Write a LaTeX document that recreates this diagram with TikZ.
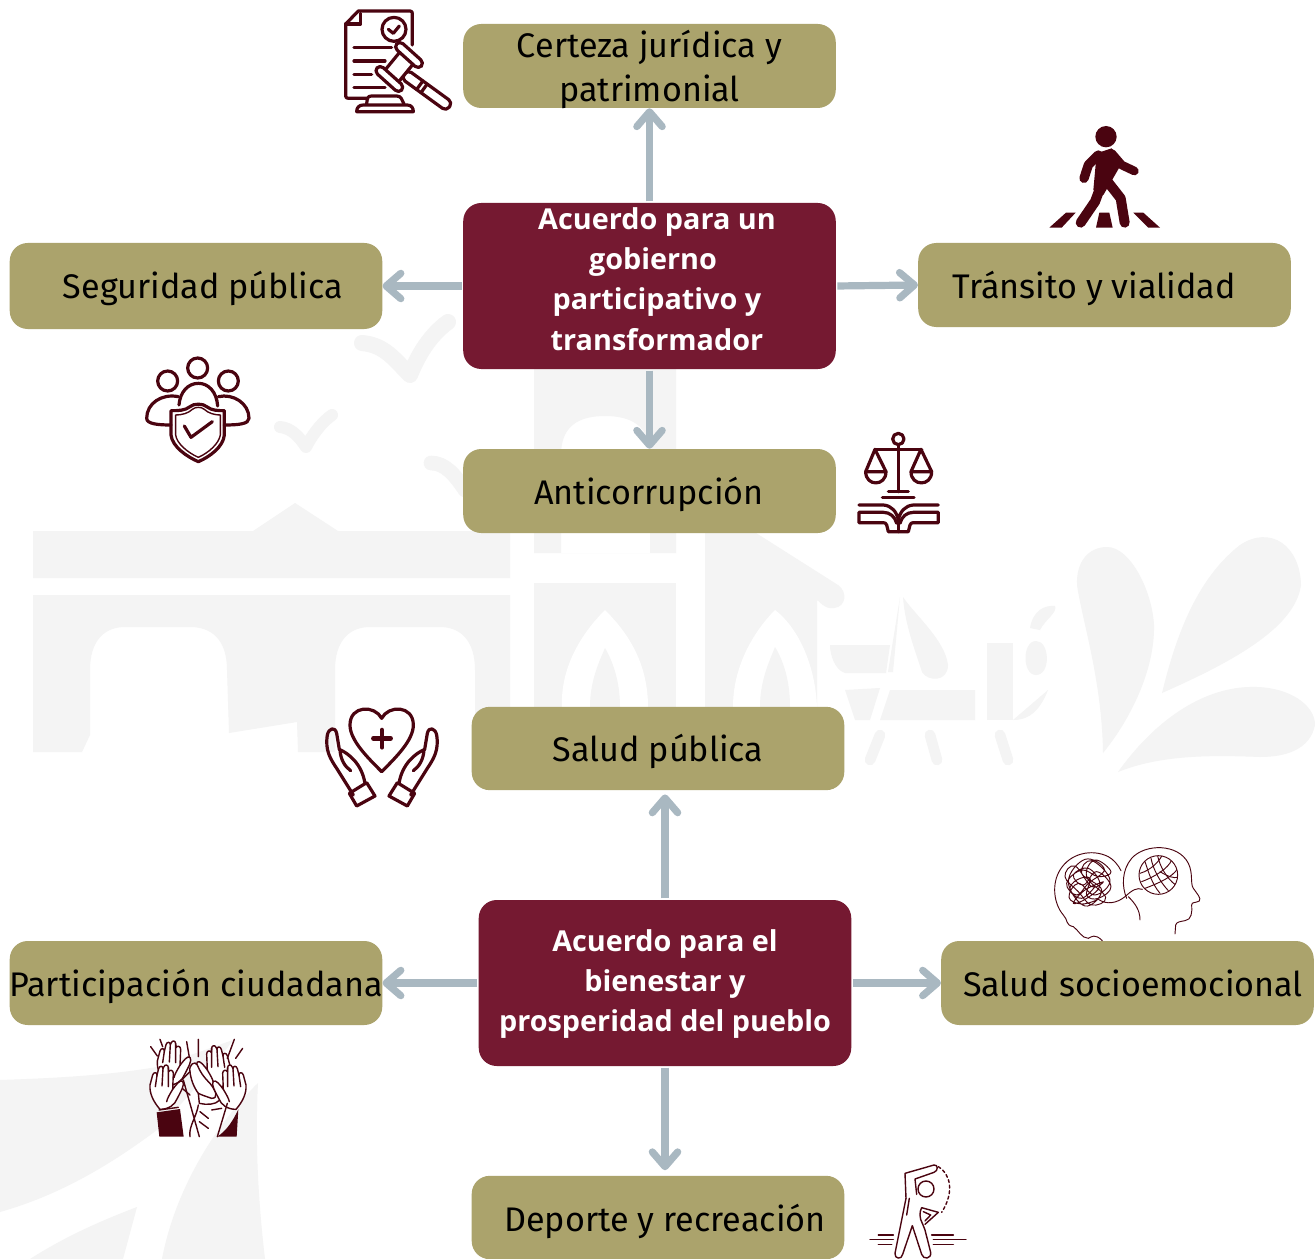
\documentclass[tikz,border=0pt]{standalone}
\usepackage{fontspec}
\setmainfont{Fira Sans}
\newfontfamily\boldf{Open Sans}
\usetikzlibrary{arrows.meta}
\definecolor{olive}{HTML}{ABA36C}
\definecolor{wine}{HTML}{751931}
\definecolor{arrowc}{HTML}{A9B8C1}
\definecolor{iconc}{HTML}{4A0410}
\definecolor{wm}{HTML}{F4F4F4}
\newcommand{\normtext}{\fontsize{25.6pt}{33pt}\selectfont}
\newcommand{\boldtext}{\fontsize{21.6pt}{30pt}\selectfont\boldf\bfseries}
\newcommand{\openhandshape}{%
  \draw[ithin,fill=white] (60,238) .. controls (40,215) and (28,190) .. (30,165) -- (38,135) .. controls (41,125) and (52,126) .. (51,136) -- (56,116) .. controls (59,106) and (69,107) .. (69,116) -- (72,110) .. controls (75,102) and (85,104) .. (85,113) -- (86,125) .. controls (90,118) and (100,120) .. (100,130) -- (98,178) .. controls (108,165) and (120,148) .. (128,154) .. controls (136,162) and (122,185) .. (112,205) .. controls (105,225) and (85,238) .. (60,238) -- cycle;
  \draw[ithin] (51,136) -- (46,170) (69,116) -- (66,168) (85,113) -- (85,170) (98,178) .. controls (88,195) and (82,205) .. (80,215);
}
\newcommand{\handheartside}{%
  \draw[icons] (100,285) -- (50,205) .. controls (30,175) and (15,150) .. (22,105) .. controls (26,85) and (45,78) .. (50,100) -- (58,148) .. controls (85,160) and (125,190) .. (135,250);
  \draw[icons] (60,150) .. controls (62,180) and (75,200) .. (92,212);
  \draw[icons] (88,280) -- (140,248) -- (165,288) -- (110,318) -- cycle;
}
\tikzset{
  bx/.style={draw=none,rounded corners=13.5pt,inner sep=0pt,minimum width=279.4pt,text width=0pt},
  bxo/.style={bx,fill=olive},
  bxw/.style={bx,fill=wine},
  lab/.style={anchor=base,inner sep=0pt,font=\normtext,text=black},
  labb/.style={anchor=base,inner sep=0pt,font=\boldtext,text=white},
  conn/.style={draw=arrowc,line width=5.4pt,line cap=butt,shorten <=1pt,-{Straight Barb[round,length=11pt,width=19pt,line width=5.4pt]}},
  icons/.style={draw=iconc,line width=2.4pt,line cap=round,line join=round},
  ithin/.style={draw=iconc,line width=1.05pt,line cap=round,line join=round},
  ihair/.style={draw=iconc,line width=0.7pt,line cap=round,line join=round},
  wmstroke/.style={draw=wm,line cap=round,line join=round},
}
\begin{document}
\begin{tikzpicture}[x=0.75pt,y=-0.75pt]
\useasboundingbox (0,0) rectangle (1315,1259);
\fill[white] (0,0) rectangle (1315,1259);

% ---------- watermark ----------
\fill[wm] (33,531) -- (253,531) -- (295,503) -- (338,531) -- (510,531) -- (510,578) -- (33,578) -- cycle;
\fill[wm] (33,595) -- (510,595) -- (510,752) -- (475,752) -- (475,670) .. controls (475,640) and (460,627) .. (440,627) -- (370,627) .. controls (350,627) and (335,640) .. (335,670) -- (335,752) -- (298,752) -- (297,722) -- (229,733) -- (227,670) .. controls (227,640) and (212,627) .. (190,627) -- (125,627) .. controls (105,627) and (90,640) .. (90,670) -- (90,735) -- (82,752) -- (33,752) -- cycle;
\fill[wm,even odd rule] (534,365) -- (676,365) -- (676,553) -- (534,553) -- cycle (561,553) -- (561,455) .. controls (561,425) and (580,416) .. (605,416) .. controls (630,416) and (650,425) .. (650,455) -- (650,553) -- cycle;
\fill[wm] (534,583) -- (676,583) -- (676,707) -- (534,707) -- cycle;
\fill[white] (562,707) .. controls (560,660) and (590,625) .. (605,610) .. controls (625,630) and (648,660) .. (648,707) -- cycle;
\fill[wm] (590,707) .. controls (590,680) and (600,660) .. (605,648) .. controls (612,660) and (620,680) .. (620,707) -- cycle;
\fill[wm] (705,533) -- (756,533) -- (838,585) .. controls (848,592) and (846,607) .. (834,608) .. controls (825,610) and (818,600) .. (817,600) -- (817,707) -- (705,707) -- cycle;
\fill[white] (733,707) .. controls (733,660) and (760,625) .. (775,610) .. controls (795,625) and (815,660) .. (817,707) -- cycle;
\fill[wm] (760,707) .. controls (760,680) and (770,660) .. (775,647) .. controls (783,660) and (790,680) .. (790,707) -- cycle;
\fill[wm] (830,645) -- (890,645) -- (886,673) -- (845,673) .. controls (835,670) and (830,655) .. (830,645) -- cycle;
\fill[wm] (903,597) .. controls (915,615) and (945,640) .. (948,665) .. controls (948,682) and (928,682) .. (922,672) .. controls (915,650) and (905,625) .. (903,597) -- cycle;
\fill[wm] (900,597) -- (888,672) -- (893,672) -- cycle;
\fill[wm] (845,690) -- (880,688) -- (870,720) -- (855,720) -- cycle;
\fill[wm] (890,690) -- (975,690) -- (975,720) -- (880,720) -- cycle;
\fill[wm] (987,643) -- (1013,643) -- (1013,720) -- (987,720) -- cycle;
\fill[wm] (1036,641) .. controls (1050,641) and (1051,675) .. (1036,675) .. controls (1022,675) and (1022,641) .. (1036,641) -- cycle;
\fill[wm] (1013,720) -- (1048,690) .. controls (1040,710) and (1030,720) .. (1013,720) -- cycle;
\fill[wm] (1030,628) .. controls (1033,610) and (1045,605) .. (1055,606) .. controls (1058,612) and (1045,620) .. (1040,630) -- cycle;
\draw[wmstroke,line width=8pt] (930,735) -- (937,760) (1000,735) -- (1008,760);
\draw[wmstroke,line width=8pt] (880,735) -- (870,760);
\draw[wmstroke,line width=12pt] (362,343) .. controls (385,345) and (395,360) .. (410,375) .. controls (418,355) and (430,335) .. (448,322);
\draw[wmstroke,line width=9pt] (280,427) .. controls (292,428) and (300,438) .. (306,447) .. controls (312,435) and (322,422) .. (332,415);
\draw[wmstroke,line width=11pt] (431,463) .. controls (445,463) and (455,475) .. (465,490);
\fill[wm] (1107,547) .. controls (1090,547) and (1076,560) .. (1077,585) .. controls (1082,620) and (1102,680) .. (1103,753) .. controls (1130,720) and (1155,670) .. (1154,625) .. controls (1152,590) and (1130,547) .. (1107,547) -- cycle;
\fill[wm] (1162,693) .. controls (1175,640) and (1195,580) .. (1240,545) .. controls (1270,525) and (1300,545) .. (1301,585) .. controls (1295,630) and (1225,665) .. (1162,693) -- cycle;
\fill[wm] (1118,772) .. controls (1155,720) and (1205,685) .. (1257,687) .. controls (1290,688) and (1315,705) .. (1315,725) .. controls (1310,750) and (1285,757) .. (1260,757) .. controls (1210,755) and (1160,755) .. (1118,772) -- cycle;
\fill[wm] (0,1080) .. controls (60,1078) and (110,1075) .. (157,1067) -- (233,1040) .. controls (205,1080) and (175,1110) .. (157,1130) .. controls (110,1165) and (60,1195) .. (0,1212) -- cycle;
\fill[wm] (258,1083) .. controls (215,1125) and (175,1190) .. (162,1259) -- (265,1259) .. controls (258,1200) and (255,1140) .. (258,1083) -- cycle;
\fill[wm] (137,1207) .. controls (90,1225) and (60,1240) .. (30,1259) -- (123,1259) -- cycle;

% ---------- boxes ----------
\node[bxo,minimum height=63pt] (cert) at (649.5,66) {};
\node[bxw,minimum height=124.5pt] (cena) at (649.5,286) {};
\node[bxo,minimum height=64.5pt] (segu) at (196,286) {};
\node[bxo,minimum height=63pt] (tran) at (1104.5,285) {};
\node[bxo,minimum height=63pt] (anti) at (649.5,491) {};
\node[bxo,minimum height=62.5pt] (salp) at (658,748.5) {};
\node[bxw,minimum height=124.5pt] (cenb) at (665,983) {};
\node[bxo,minimum height=63pt] (part) at (196,983) {};
\node[bxo,minimum height=63pt] (sals) at (1127.5,983) {};
\node[bxo,minimum height=62.5pt] (depo) at (658,1217.5) {};

% ---------- labels ----------
\node[lab] (t1) at (649.5,58) {Certeza jurídica y};
\node[lab] (t2) at (649.5,102) {patrimonial};
\node[lab] (t3) at (203,299) {Seguridad pública};
\node[lab] (t4) at (1094,299) {Tránsito y vialidad};
\node[lab] (t5) at (649,504) {Anticorrupción};
\node[lab] (t6) at (658,761) {Salud pública};
\node[lab] (t7) at (196,996) {Participación ciudadana};
\node[lab] (t8) at (1133,996) {Salud socioemocional};
\node[lab] (t9) at (665,1231) {Deporte y recreación};
\node[labb] (a1) at (657,230) {Acuerdo para un};
\node[labb] (a2) at (653,270) {gobierno};
\node[labb] (a3) at (657,310) {participativo y};
\node[labb] (a4) at (657,350) {transformador};
\node[labb] (b1) at (665,951) {Acuerdo para el};
\node[labb] (b2) at (665,991) {bienestar y};
\node[labb] (b3) at (665,1031) {prosperidad del pueblo};

% ---------- connectors ----------
\draw[conn,shorten >=0pt] (cena.north) -- (cert.south);
\draw[conn,shorten >=0pt] (cena.west) -- (segu.east);
\draw[conn,shorten >=0pt] (cena.east) -- (tran.west);
\draw[conn,shorten >=0pt] (cena.south) -- (anti.north);
\draw[conn,shorten >=3pt] (cenb.north) -- (cenb.north |- salp.south);
\draw[conn,shorten >=0pt] (cenb.west) -- (part.east);
\draw[conn,shorten >=0pt] (cenb.east) -- (sals.west);
\draw[conn,shorten >=4pt] (cenb.south) -- (cenb.south |- depo.north);

% ---------- icon: document and gavel ----------
\begin{scope}[shift={(330,0)},scale=1/3]
\draw[icons] (110,295) -- (55,295) .. controls (49,295) and (47,292) .. (47,288) -- (47,72) -- (85,33) -- (240,33) .. controls (245,33) and (247,36) .. (247,40) -- (247,135);
\draw[icons] (47,72) -- (92,72) -- (92,40);
\draw[icons] (192,88) circle (36);
\draw[icons] (175,88) -- (190,100) -- (208,78);
\draw[icons] (72,143) -- (185,143) (72,183) -- (165,183) (72,223) -- (125,223) (72,263) -- (165,263);
\begin{scope}[rotate around={-36:(300,278)}]
\draw[icons,fill=white,rounded corners=3.5pt] (205,262) rectangle (372,294);
\draw[icons] (262,262) -- (262,294) (278,262) -- (278,294);
\end{scope}
\draw[icons,fill=white] (217,147) -- (257,183) -- (198,255) -- (158,219) -- cycle;
\draw[icons,fill=white,rotate around={-42:(237,165)},rounded corners=3.5pt] (187,152) rectangle (287,178);
\draw[icons,fill=white,rotate around={-42:(178,237)},rounded corners=3.5pt] (128,224) rectangle (228,250);
\draw[icons] (110,312) .. controls (112,295) and (112,288) .. (125,288) -- (200,288) .. controls (215,288) and (215,300) .. (222,312);
\draw[icons] (80,335) .. controls (80,322) and (88,315) .. (100,315) -- (232,315) .. controls (245,315) and (250,325) .. (250,335) -- cycle;
\end{scope}

% ---------- icon: pedestrian ----------
\begin{scope}[shift={(1040,120)},scale=1/3]
\fill[iconc] (198,50) circle (32);
\fill[iconc] (170,100) -- (215,85) -- (245,130) -- (225,165) -- (190,225) -- (160,210) -- cycle;
\draw[iconc,line width=7pt,line cap=round,line join=round] (175,105) -- (145,135) -- (132,175);
\draw[iconc,line width=6.5pt,line cap=round,line join=round] (215,100) -- (245,135) -- (283,153);
\draw[iconc,line width=7.5pt,line cap=round,line join=round] (180,205) -- (165,245) -- (122,308);
\draw[iconc,line width=7.5pt,line cap=round,line join=round] (195,175) -- (242,235) -- (254,308);
\fill[iconc] (28,323) -- (78,278) -- (107,278) -- (65,323) -- cycle;
\fill[iconc] (168,323) -- (178,278) -- (208,278) -- (218,323) -- cycle;
\fill[iconc] (280,278) -- (310,278) -- (360,323) -- (325,323) -- cycle;
\end{scope}

% ---------- icon: people and shield ----------
\begin{scope}[shift={(135,350)},scale=1/3]
\draw[icons] (188,54) circle (30) (98,93) circle (30) (280,93) circle (30);
\draw[icons] (132,165) .. controls (135,125) and (160,100) .. (190,100) .. controls (220,100) and (245,125) .. (248,168);
\draw[icons] (130,140) .. controls (80,130) and (35,160) .. (35,205) .. controls (35,222) and (70,225) .. (108,225);
\draw[icons] (250,140) .. controls (295,130) and (342,160) .. (342,205) .. controls (342,222) and (310,225) .. (268,225);
\draw[icons] (108,182) .. controls (130,182) and (150,182) .. (165,170) .. controls (175,160) and (205,160) .. (215,170) .. controls (230,182) and (250,182) .. (268,182) -- (268,255) .. controls (265,290) and (225,320) .. (190,335) .. controls (155,320) and (112,290) .. (108,255) -- cycle;
\draw[ithin] (122,195) .. controls (140,195) and (160,190) .. (172,178) .. controls (182,170) and (198,170) .. (208,178) .. controls (220,190) and (240,195) .. (256,195) -- (256,255) .. controls (252,280) and (222,308) .. (190,322) .. controls (158,308) and (125,280) .. (122,255) -- cycle;
\draw[icons] (148,228) -- (168,262) -- (232,215);
\end{scope}

% ---------- icon: scales and book ----------
\begin{scope}[shift={(850,425)},scale=1/3]
\draw[icons] (145,42) circle (17);
\draw[icons] (145,60) -- (145,200) (75,73) -- (215,73) (115,200) -- (175,200) (97,217) -- (192,217);
\draw[icons] (47,140) -- (75,73) -- (108,140) (183,140) -- (213,73) -- (245,140);
\draw[icons] (47,140) -- (108,140) .. controls (108,185) and (47,185) .. (47,140);
\draw[icons] (183,140) -- (245,140) .. controls (245,185) and (183,185) .. (183,140);
\draw[icons] (27,240) -- (100,240) .. controls (125,242) and (140,260) .. (145,285) .. controls (150,260) and (165,242) .. (190,240) -- (265,240);
\draw[icons] (145,285) -- (145,320);
\draw[icons] (115,320) -- (175,320) -- (180,300) .. controls (182,295) and (185,293) .. (190,293) -- (265,293) -- (265,262) -- (190,262) .. controls (170,262) and (155,275) .. (150,295);
\draw[icons] (115,320) -- (110,300) .. controls (108,295) and (105,293) .. (100,293) -- (27,293) -- (27,262) -- (100,262) .. controls (120,262) and (135,275) .. (140,295);
\end{scope}

% ---------- icon: heart and hands ----------
\begin{scope}[shift={(320,700)},scale=1/3]
\draw[icons] (185,215) .. controls (140,170) and (90,120) .. (90,75) .. controls (90,15) and (165,15) .. (185,55) .. controls (205,15) and (280,15) .. (280,75) .. controls (280,120) and (230,170) .. (185,215) -- cycle;
\draw[iconc,line width=3.4pt,line cap=round] (160,115) -- (212,115) (186,90) -- (186,142);
\handheartside
\begin{scope}[shift={(372,0)},xscale=-1]
\handheartside
\end{scope}
\end{scope}

% ---------- icon: two heads ----------
\begin{scope}[shift={(1045,840)},scale=1/3]
\draw[ihair] (85,260) .. controls (60,255) and (70,240) .. (55,225) .. controls (25,190) and (20,130) .. (45,90) .. controls (75,40) and (140,25) .. (190,50) .. controls (205,58) and (220,75) .. (228,92);
\draw[ihair] (85,260) .. controls (100,270) and (110,295) .. (130,295) .. controls (140,290) and (150,280) .. (172,302);
\draw[ihair] (250,170) .. controls (270,190) and (285,210) .. (285,240);
\draw[ihair] (245,175) .. controls (230,140) and (230,90) .. (260,55) .. controls (300,10) and (400,10) .. (430,70) .. controls (445,100) and (435,130) .. (445,145) .. controls (455,160) and (470,175) .. (463,183) .. controls (450,190) and (440,185) .. (440,195) .. controls (442,215) and (440,240) .. (420,242) .. controls (405,245) and (395,245) .. (392,255) -- (390,282);
\draw[ihair] (160,178) .. controls (185,195) and (215,190) .. (240,170) .. controls (262,150) and (275,142) .. (292,148);
\draw[ihair] (340,105) circle (58);
\begin{scope}
\clip (340,105) circle (58);
\draw[ihair] (285,100) .. controls (320,90) and (345,60) .. (350,48) (290,125) .. controls (330,110) and (370,85) .. (380,60) (300,145) .. controls (340,130) and (385,110) .. (398,85);
\draw[ihair] (300,65) .. controls (310,95) and (320,130) .. (345,160) (318,55) .. controls (325,90) and (345,125) .. (370,152) (338,48) .. controls (345,80) and (365,115) .. (392,135);
\draw[ihair] (345,95) .. controls (370,110) and (385,115) .. (398,112);
\end{scope}
\draw[ihair] plot[smooth,tension=0.7] coordinates {(160,178) (110,192) (72,172) (100,130) (150,165) (195,120) (140,62) (110,100) (170,150) (120,198) (70,125) (120,58) (178,88) (130,130) (95,165) (65,130) (110,90) (160,110) (198,95) (150,60) (125,110) (182,172) (140,195) (100,155) (60,110) (90,78) (140,140) (175,125) (120,150) (85,190) (125,175) (165,135) (130,85) (85,105) (115,135) (155,95) (198,140) (160,175) (125,165) (135,115) (95,120) (75,150) (110,175) (150,140)};
\end{scope}

% ---------- icon: raised hands ----------
\begin{scope}[shift={(140,1030)},scale=1/3]
\begin{scope}[shift={(22,-72)}]
\openhandshape
\end{scope}
\begin{scope}[shift={(300,-58)},xscale=-1]
\openhandshape
\end{scope}
\draw[ithin] (130,150) -- (178,320) (150,320) .. controls (145,290) and (170,260) .. (175,225);
\draw[ithin,fill=white] (150,125) .. controls (145,105) and (165,90) .. (172,105) .. controls (180,125) and (190,140) .. (210,160) .. controls (230,185) and (235,205) .. (215,205) .. controls (200,200) and (185,195) .. (175,190) .. controls (160,170) and (152,145) .. (150,125) -- cycle;
\draw[ithin] (125,150) -- (150,125) (115,165) -- (150,195) (175,190) -- (178,220) .. controls (200,225) and (225,225) .. (240,210);
\draw[ithin] (180,245) -- (205,265) (178,275) -- (205,295) (215,240) -- (245,235);
\openhandshape
\begin{scope}[shift={(348,0)},xscale=-1]
\openhandshape
\end{scope}
\fill[iconc] (50,247) -- (120,237) -- (131,320) -- (58,320) -- cycle;
\draw[ithin] (57,240) -- (115,232);
\fill[iconc] (295,238) -- (290,320) -- (232,320) .. controls (262,300) and (280,270) .. (295,238) -- cycle;
\draw[ithin] (32,50) -- (52,78) (60,28) -- (68,50) (140,35) -- (148,82) (175,28) -- (175,80) (283,28) -- (262,85) (308,55) -- (287,85);
\draw[ithin] (262,220) -- (232,320);
\end{scope}

% ---------- icon: stretching figure ----------
\begin{scope}[shift={(860,1155)},scale=1/3]
\draw[ithin] (138,130) -- (135,55) -- (222,30) .. controls (235,28) and (235,48) .. (222,52) -- (165,72) -- (170,118);
\draw[ithin] (198,102) circle (24);
\draw[ithin] (138,130) -- (105,295) .. controls (103,312) and (125,315) .. (128,298) -- (157,212) -- (185,298) .. controls (190,315) and (215,312) .. (212,292) -- (195,225) -- (187,205);
\draw[ithin] (148,130) -- (140,180);
\draw[ithin] (185,158) -- (235,172) -- (195,208) (185,158) .. controls (178,170) and (178,190) .. (187,205);
\draw[ithin] (190,170) -- (212,180) -- (195,198);
\draw[ithin,dash pattern=on 2.2pt off 2pt] (235,35) .. controls (270,55) and (285,110) .. (245,172);
\draw[ithin] (55,240) -- (100,240) (30,254) -- (100,254) (55,268) -- (95,268);
\draw[ithin] (215,240) -- (280,240) (220,254) -- (318,254) (220,268) -- (280,268);
\end{scope}
\end{tikzpicture}
\end{document}
